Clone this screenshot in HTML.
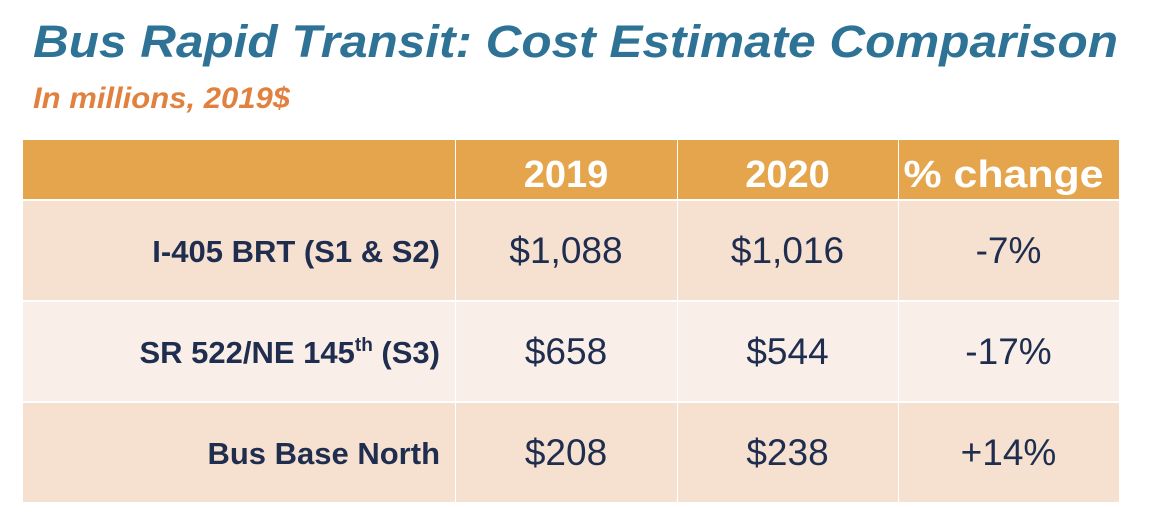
<!DOCTYPE html>
<html><head><meta charset="utf-8"><style>
html,body{margin:0;padding:0;background:#fff;}
svg{display:block;font-family:"Liberation Sans",Arial,sans-serif;}
</style></head><body>
<svg width="1150" height="526" viewBox="0 0 1150 526">
<text x="33" y="57" font-size="45" font-weight="bold" font-style="italic" fill="#2e7396" textLength="1085" lengthAdjust="spacingAndGlyphs">Bus Rapid Transit: Cost Estimate Comparison</text>
<text x="33" y="108" font-size="30" font-weight="bold" font-style="italic" fill="#e0813f" textLength="257" lengthAdjust="spacingAndGlyphs">In millions, 2019$</text>
<g id="tbl"></g>
</svg>
<script>
const columns = ["2019", "2020", "% change"];
const rowLabels = ["I-405 BRT (S1 & S2)", "SR 522/NE 145th (S3)", "Bus Base North"];
const values2019 = ["$1,088", "$658", "$208"];
const values2020 = ["$1,016", "$544", "$238"];
const pctChange = ["-7%", "-17%", "+14%"];
const NS = "http://www.w3.org/2000/svg";
const g = document.getElementById("tbl");
const colX = [23, 455, 677, 898, 1119];
const rowY = [140, 199, 300, 401, 502];
const rowFill = ["#e5a54c", "#f6e1d1", "#faefe8", "#f6e1d1"];
function mk(tag, attrs) { const e = document.createElementNS(NS, tag); for (const k in attrs) e.setAttribute(k, attrs[k]); g.appendChild(e); return e; }
for (let r = 0; r < 4; r++) {
  for (let c = 0; c < 4; c++) {
    const rc = mk("rect", {x: colX[c] + (c ? 1 : 0), y: rowY[r] + (r ? 2 : 0), width: colX[c+1] - colX[c] - (c ? 1 : 0), height: rowY[r+1] - rowY[r] - (r ? 2 : 0), fill: rowFill[r]});
    
    
  }
}
columns.forEach((t, i) => {
  const cx = (colX[i+1] + colX[i+2]) / 2 - (i === 2 ? 5 : 0);
  const e = mk("text", {x: cx, y: 187, "text-anchor": "middle", "font-size": 38, "font-weight": "bold", fill: "#fff"});
  if (i === 2) { e.setAttribute("textLength", 200); e.setAttribute("lengthAdjust", "spacingAndGlyphs"); }
  e.textContent = t;
  
  
});
rowLabels.forEach((t, r) => {
  const base = rowY[r+1] + 64;
  const e = mk("text", {x: 440, y: base - 1, "text-anchor": "end", "font-size": 31, "font-weight": "bold", fill: "#1f2d4f"});
  if (t.indexOf("145th") >= 0) {
    const parts = t.split("145th");
    const a = document.createElementNS(NS, "tspan"); a.textContent = parts[0] + "145"; e.appendChild(a);
    const b = document.createElementNS(NS, "tspan"); b.setAttribute("dy", -12); b.setAttribute("font-size", 19); b.textContent = "th"; e.appendChild(b);
    const d = document.createElementNS(NS, "tspan"); d.setAttribute("dy", 12); d.textContent = parts[1]; e.appendChild(d);
  } else e.textContent = t;
  
  
  [values2019[r], values2020[r], pctChange[r]].forEach((v, c) => {
    const cx = (colX[c+1] + colX[c+2]) / 2;
    const tv = mk("text", {x: cx, y: base, "text-anchor": "middle", "font-size": 37, fill: "#1f2d4f"});
    tv.textContent = v;
    
    
  });
});
</script>
</body></html>
